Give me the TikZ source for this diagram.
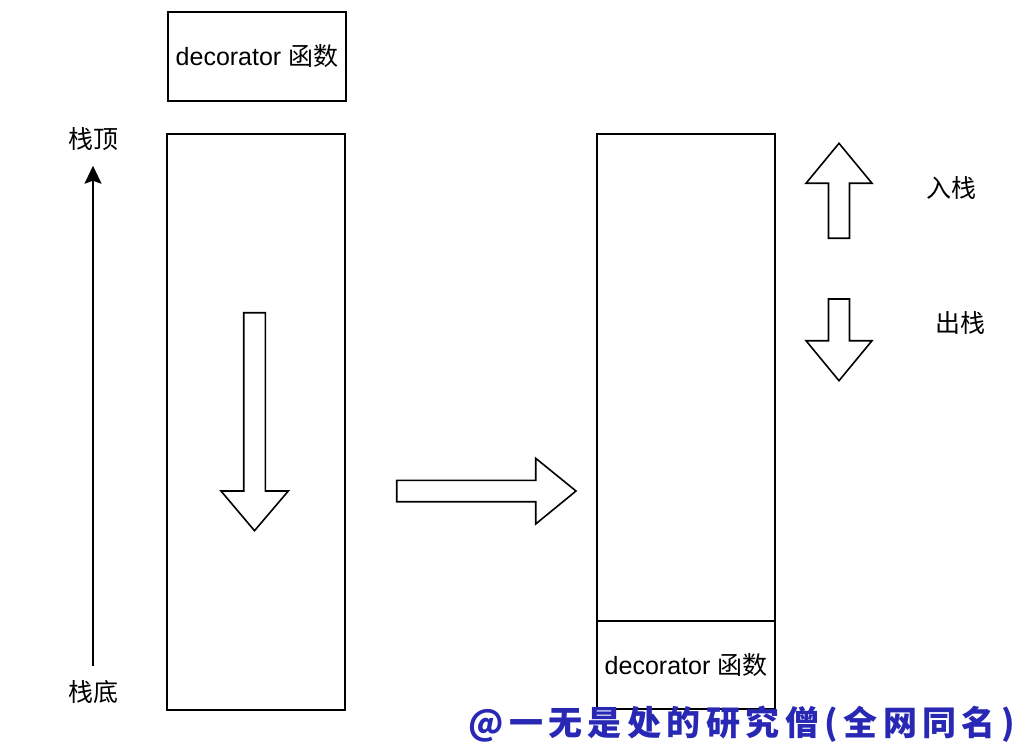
\documentclass[tikz,border=0pt]{standalone}
\usepackage{fontspec}
\setmainfont{Liberation Sans}
\newfontfamily\cjk{Noto Sans CJK SC}
\newfontfamily\wmfont[LetterSpace=16]{Noto Sans CJK SC}
\usepackage{xcolor}
\usepackage{tikz}
\usetikzlibrary{positioning,calc,arrows.meta}
\definecolor{wmblue}{RGB}{40,40,180}

\begin{document}
\begin{tikzpicture}[
    x=1pt, y=-1pt,
    font=\fontsize{25}{30}\selectfont,
    stackbox/.style={rectangle, draw, line width=1.6pt, inner sep=0pt, minimum width=178pt},
    blockarrow/.style={draw, line width=1.6pt, line join=miter},
    label/.style={inner sep=0pt},
    arrow/.style={line width=1.6pt, -{Stealth[length=18pt, width=17pt, inset=3pt]}}
]
    \useasboundingbox (0, 0) rectangle (1036, 754);

    % left side
    \node[stackbox, minimum height=89pt] (func) at (257, 56.5) {decorator {\cjk 函数}};
    \node[stackbox, minimum height=576pt] (left) at (256, 422) {};
    \node[label] (top) at (93, 139) {\cjk 栈顶};
    \node[label] (bottom) at (93, 692) {\cjk 栈底};
    \draw[arrow, shorten <=14pt, shorten >=15pt] (bottom) -- (top);

    \draw[blockarrow] (243.7, 312.7) -- (265.3, 312.7) -- (265.3, 491) -- (288.3, 491)
        -- (254.5, 530.7) -- (221, 491) -- (243.7, 491) -- cycle;

    % middle
    \draw[blockarrow] (396.7, 480.3) -- (535.7, 480.3) -- (535.7, 458.3) -- (576, 491)
        -- (535.7, 524) -- (535.7, 501.7) -- (396.7, 501.7) -- cycle;

    % right side
    \node[stackbox, minimum height=575pt] (right) at (686, 421.5) {};
    \node[stackbox, minimum height=88pt, anchor=south] (funcin) at (right.south) {decorator {\cjk 函数}};

    \draw[blockarrow] (828.5, 238.3) -- (828.5, 183.3) -- (806, 183.3) -- (839, 143.3)
        -- (872, 183.3) -- (849.5, 183.3) -- (849.5, 238.3) -- cycle;
    \draw[blockarrow] (828.5, 299) -- (849.5, 299) -- (849.5, 340.7) -- (872, 340.7)
        -- (839, 380.7) -- (806, 340.7) -- (828.5, 340.7) -- cycle;
    \node[label] (push) at (951.7, 188) {\cjk 入栈};
    \node[label] (pop) at (960, 322.7) {\cjk 出栈};

    % watermark
    \node[label, text=wmblue, anchor=west] (mark) at (468, 724)
        {\fontsize{34}{40}\selectfont\wmfont\bfseries @一无是处的研究僧(全网同名)};
\end{tikzpicture}
\end{document}
